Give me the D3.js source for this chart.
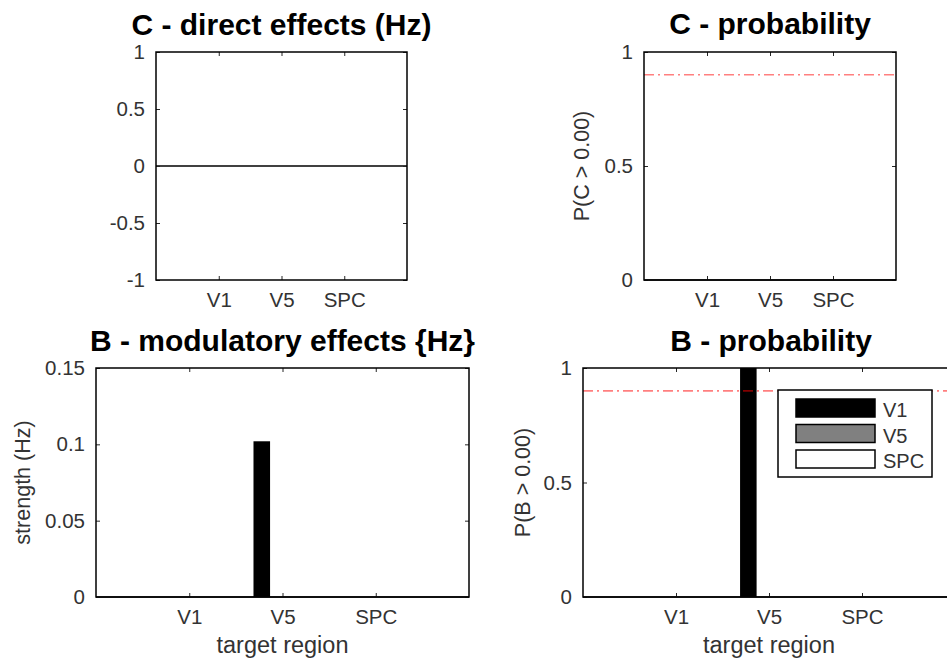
<!DOCTYPE html>
<html>
<head>
<meta charset="utf-8">
<script src="https://cdn.jsdelivr.net/npm/d3@7"></script>
<style>
  html, body { margin: 0; padding: 0; background: #fff; }
  svg { display: block; font-family: "Liberation Sans", Arial, Helvetica, sans-serif; }
</style>
</head>
<body>
<svg id="fig" width="947" height="666"></svg>
<script>
// Region names used for the x groups and for the legend series
const regions = ["V1", "V5", "SPC"];
const seriesColors = ["#000000", "#808080", "#ffffff"];

// Direct (driving) input effects per target region
const cStrength = [0, 0, 0];
const cProbability = [0, 0, 0];

// Modulatory effects: one array per source series, indexed by target region
const bStrengthV1 = [0, 0.102, 0];
const bStrengthV5 = [0, 0, 0];
const bStrengthSPC = [0, 0, 0];
const bProbV1 = [0, 1, 0];
const bProbV5 = [0, 0, 0];
const bProbSPC = [0, 0, 0];

const threshold = 0.9;

const cStrengthTicks = [-1, -0.5, 0, 0.5, 1];
const probTicks = [0, 0.5, 1];
const bStrengthTicks = [0, 0.05, 0.1, 0.15];

const svg = d3.select("#fig");
const INK = "#262626";
const TICK_FONT = 20.5;

function drawPanel(cfg) {
  const g = svg.append("g");
  const x = d3.scaleLinear().domain([0, 4]).range([cfg.left, cfg.right]);
  const y = d3.scaleLinear().domain(cfg.yDomain).range([cfg.bottom, cfg.top]);

  // axes background
  g.append("rect")
    .attr("x", cfg.left).attr("y", cfg.top)
    .attr("width", cfg.right - cfg.left).attr("height", cfg.bottom - cfg.top)
    .attr("fill", "#fff");

  // grouped bars: groups are target regions, series are source regions
  const nS = cfg.series.length;
  const groupW = nS > 1 ? Math.min(0.8, nS / (nS + 1.5)) : 1;
  const inner = d3.scaleBand().domain(d3.range(nS))
    .range([-groupW / 2, groupW / 2]).paddingInner(0.2).paddingOuter(0.1);
  const bars = [];
  cfg.series.forEach((vals, s) => {
    vals.forEach((v, t) => bars.push({ t: t + 1, s, v }));
  });
  g.selectAll("rect.bar").data(bars.filter(d => d.v !== 0)).join("rect")
    .attr("class", "bar")
    .attr("x", d => x(d.t + inner(d.s)))
    .attr("width", d => x(d.t + inner(d.s) + inner.bandwidth()) - x(d.t + inner(d.s)))
    .attr("y", d => y(Math.max(0, d.v)))
    .attr("height", d => Math.abs(y(d.v) - y(0)))
    .attr("fill", d => seriesColors[d.s]);

  // bar baseline at zero
  g.append("line")
    .attr("x1", cfg.left).attr("x2", cfg.right)
    .attr("y1", y(0)).attr("y2", y(0))
    .attr("stroke", "#000").attr("stroke-width", 1.5);

  // probability threshold
  if (cfg.threshold !== undefined) {
    g.append("line")
      .attr("x1", cfg.left).attr("x2", cfg.right)
      .attr("y1", y(cfg.threshold)).attr("y2", y(cfg.threshold))
      .attr("stroke", "#ff0000").attr("stroke-opacity", 0.5)
      .attr("stroke-width", 1.6)
      .attr("stroke-dasharray", "10,4,2,4");
  }

  // axes with inward ticks on all four sides
  const styleAxis = sel => {
    sel.select(".domain").remove();
    sel.selectAll(".tick line").attr("stroke", INK).attr("stroke-width", 1);
    sel.selectAll(".tick text").attr("fill", "#333").style("font-size", TICK_FONT + "px")
      .style("font-family", "Liberation Sans, Arial, sans-serif");
  };
  g.append("g").attr("transform", `translate(0,${cfg.bottom})`)
    .call(d3.axisBottom(x).tickValues([1, 2, 3]).tickFormat(i => regions[i - 1])
      .tickSizeInner(-4).tickSizeOuter(0).tickPadding(12))
    .call(styleAxis);
  g.append("g").attr("transform", `translate(0,${cfg.top})`)
    .call(d3.axisTop(x).tickValues([1, 2, 3]).tickFormat("")
      .tickSizeInner(-4).tickSizeOuter(0))
    .call(styleAxis);
  g.append("g").attr("transform", `translate(${cfg.left},0)`)
    .call(d3.axisLeft(y).tickValues(cfg.yTicks).tickFormat(d => String(d))
      .tickSizeInner(-4).tickSizeOuter(0).tickPadding(11))
    .call(styleAxis);
  g.append("g").attr("transform", `translate(${cfg.right},0)`)
    .call(d3.axisRight(y).tickValues(cfg.yTicks).tickFormat("")
      .tickSizeInner(-4).tickSizeOuter(0))
    .call(styleAxis);

  // axes frame
  g.append("rect")
    .attr("x", cfg.left).attr("y", cfg.top)
    .attr("width", cfg.right - cfg.left).attr("height", cfg.bottom - cfg.top)
    .attr("fill", "none").attr("stroke", "#000").attr("stroke-width", 1.5);

  // title
  g.append("text")
    .attr("x", (cfg.left + cfg.right) / 2 + (cfg.titleShift || 0))
    .attr("y", cfg.titleY)
    .attr("text-anchor", "middle")
    .attr("font-weight", "bold").attr("font-size", 30).attr("fill", "#000")
    .text(cfg.title);

  // y label
  if (cfg.yLabel) {
    g.append("text")
      .attr("transform", `translate(${cfg.yLabelX},${(cfg.top + cfg.bottom) / 2}) rotate(-90)`)
      .attr("text-anchor", "middle")
      .attr("font-size", 21.5).attr("fill", "#333")
      .text(cfg.yLabel);
  }
  // x label
  if (cfg.xLabel) {
    g.append("text")
      .attr("x", (cfg.left + cfg.right) / 2 - (cfg.xLabelShift || 0))
      .attr("y", cfg.bottom + 56)
      .attr("text-anchor", "middle")
      .attr("font-size", 23.5).attr("fill", "#333")
      .text(cfg.xLabel);
  }
  return { g, x, y };
}

drawPanel({
  left: 156, right: 407, top: 52, bottom: 280,
  yDomain: [-1, 1], yTicks: cStrengthTicks,
  series: [cStrength],
  title: "C - direct effects (Hz)", titleY: 35
});

drawPanel({
  left: 644, right: 896, top: 52, bottom: 280,
  yDomain: [0, 1], yTicks: probTicks,
  series: [cProbability], threshold: threshold,
  title: "C - probability", titleY: 34,
  yLabel: "P(C > 0.00)", yLabelX: 589
});

drawPanel({
  left: 96, right: 469, top: 368, bottom: 597,
  yDomain: [0, 0.15], yTicks: bStrengthTicks,
  series: [bStrengthV1, bStrengthV5, bStrengthSPC],
  title: "B - modulatory effects {Hz}", titleY: 351,
  yLabel: "strength (Hz)", yLabelX: 30,
  xLabel: "target region"
});

const br = drawPanel({
  left: 583, right: 955, top: 368, bottom: 597,
  yDomain: [0, 1], yTicks: probTicks,
  series: [bProbV1, bProbV5, bProbSPC], threshold: threshold,
  title: "B - probability", titleY: 351, titleShift: 2,
  yLabel: "P(B > 0.00)", yLabelX: 530,
  xLabel: "target region"
});

// legend for the source series
const legend = br.g.append("g").attr("transform", "translate(778,390)");
legend.append("rect")
  .attr("width", 154).attr("height", 87)
  .attr("fill", "#fff").attr("stroke", "#000").attr("stroke-width", 1.5);
regions.forEach((name, i) => {
  legend.append("rect")
    .attr("x", 18).attr("y", 9 + i * 25.5)
    .attr("width", 79).attr("height", 18)
    .attr("fill", seriesColors[i]).attr("stroke", "#000").attr("stroke-width", 1.5);
  legend.append("text")
    .attr("x", 105).attr("y", 27 + i * 25.5)
    .attr("font-size", 20).attr("fill", "#333")
    .text(name);
});
</script>
</body>
</html>
